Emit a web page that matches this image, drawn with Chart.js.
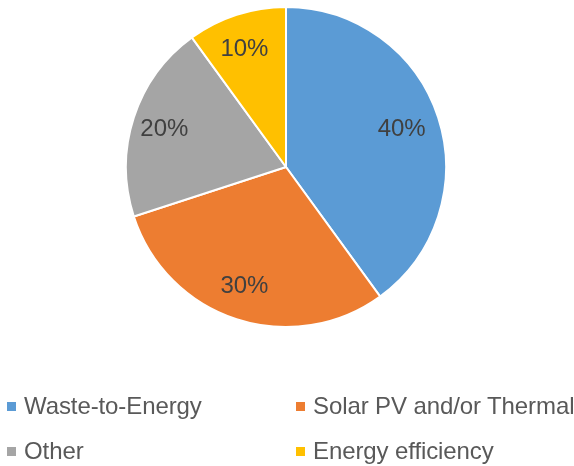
<!DOCTYPE html>
<html>
<head>
<meta charset="utf-8">
<script src="https://cdn.jsdelivr.net/npm/chart.js@4"></script>
<style>
  html, body { margin: 0; padding: 0; background: #fff; }
  #wrap { position: relative; width: 574px; height: 466px; }
  #legend { position: absolute; left: 0; top: 0; width: 574px; height: 466px; pointer-events: none;
            font-family: "Liberation Sans", Arial, sans-serif; font-size: 24px; color: #595959; }
  .item { position: absolute; white-space: nowrap; line-height: 24px; letter-spacing: -0.1px; }
  .box { position: absolute; width: 9px; height: 9px; }
</style>
</head>
<body>
<div id="wrap">
  <canvas id="pie" width="574" height="466"></canvas>
  <div id="legend"></div>
</div>
<script>
var labels = ['Waste-to-Energy', 'Solar PV and/or Thermal', 'Other', 'Energy efficiency']
var values = [40, 30, 20, 10]
var colors = ['#5B9BD5', '#ED7D31', '#A5A5A5', '#FFC000']

// legend grid spots (column x, row y) in reading order
var legend_cols = [7, 296]
var legend_rows = [406, 451]

var sliceLabels = {
  id: 'sliceLabels',
  afterDatasetsDraw(chart) {
    let ctx = chart.ctx
    let meta = chart.getDatasetMeta(0)
    ctx.save()
    ctx.font = '24px "Liberation Sans", Arial, sans-serif'
    ctx.fillStyle = '#404040'
    ctx.textAlign = 'center'
    ctx.textBaseline = 'middle'
    meta.data.forEach((arc, i) => {
      let p = arc.getProps(['x', 'y', 'startAngle', 'endAngle', 'outerRadius'], true)
      let mid = (p.startAngle + p.endAngle) / 2
      let r = p.outerRadius * 0.78
      ctx.fillText(values[i] + '%', p.x + Math.cos(mid) * r - 3, p.y + Math.sin(mid) * r + 1)
    })
    ctx.restore()
  }
}

new Chart(document.getElementById('pie').getContext('2d'), {
  type: 'pie',
  data: {
    labels: labels,
    datasets: [{
      data: values,
      backgroundColor: colors,
      borderColor: '#ffffff',
      borderWidth: 2
    }]
  },
  options: {
    responsive: false,
    animation: false,
    layout: { padding: { top: 6, bottom: 138, left: 125, right: 127 } },
    plugins: {
      legend: { display: false },
      tooltip: { enabled: false }
    }
  },
  plugins: [sliceLabels]
})

var legend = document.getElementById('legend')
labels.forEach((name, i) => {
  let x = legend_cols[i % 2], y = legend_rows[Math.floor(i / 2)]
  let box = document.createElement('div')
  box.className = 'box'
  box.style.left = x + 'px'
  box.style.top = (y - 4) + 'px'
  box.style.background = colors[i]
  let txt = document.createElement('div')
  txt.className = 'item'
  txt.style.left = (x + 17) + 'px'
  txt.style.top = (y - 12) + 'px'
  txt.textContent = name
  legend.appendChild(box)
  legend.appendChild(txt)
})
</script>
</body>
</html>
